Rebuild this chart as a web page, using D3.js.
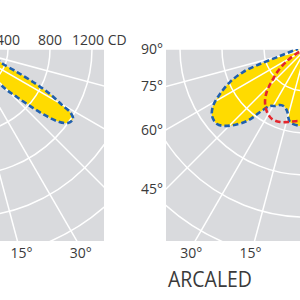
<!DOCTYPE html>
<html>
<head>
<meta charset="utf-8">
<script src="https://cdn.jsdelivr.net/npm/d3@7"></script>
<style>
  body { margin: 0; background: #fff; }
  svg { display: block; }
  text { font-family: "Open Sans", "DejaVu Sans", sans-serif; fill: #3a3a3a; }
</style>
</head>
<body>
<div id="chart"></div>
<script>
// grid + labels
const gridIntensities = [400, 800, 1200, 1600, 2000, 2400, 2800];
const gridAngles = [0, 15, 30, 45, 60, 75, 90];
const radialTickLabels = [400, 800, 1200];
const sideAngleLabels = [90, 75, 60, 45];
const bottomAngleLabels = [15, 30];
const title = "ARCALED";

// left diagram, blue curve (gamma in degrees, intensity in cd)
const leftBlueAngles = [0, 20, 30, 36, 40, 42, 44, 45, 46.7, 48.3, 49.8, 51.6, 54, 56.8, 58.8, 59.6, 61.8, 63.8, 65.7, 67.9, 70, 73, 78, 84, 90];
const leftBlueCd = [0, 10, 40, 90, 170, 280, 440, 560, 670, 815, 960, 1105, 1200, 1218, 1158, 1071, 908, 711, 533, 380, 330, 200, 90, 30, 0];

// right diagram, blue curve
const rightBlueAngles = [0, 4.5, 12.4, 17, 21, 24.9, 28.5, 32.3, 36.1, 39.3, 45.7, 49.9, 54.5, 58.5, 62.4, 66.5, 69.9, 71.9, 74.9, 80, 85, 90];
const rightBlueCd = [735, 735, 711, 617, 585, 588, 618, 642, 743, 886, 1048, 1109, 1099, 1038, 924, 790, 638, 461, 257, 150, 100, 76];

// right diagram, red curve
const rightRedAngles = [0, 6.3, 13.9, 19.6, 25.9, 31.8, 37.7, 42.9, 46.7, 51.8, 57.7, 64, 70, 76];
const rightRedCd = [690, 690, 716, 738, 741, 705, 638, 546, 445, 339, 214, 100, 30, 0];

const width = 300, height = 300;
const topY = 49, bottomY = 241;
const rScale = d3.scaleLinear().domain([0, 400]).range([0, 42]);

const panels = [
  { id: "l", cx: -34, x0: -34, x1: 104, mirror: false,
    curves: [{ angles: leftBlueAngles, cd: leftBlueCd, color: "#1f5fae", fill: true }] },
  { id: "r", cx: 306, x0: 166, x1: 306, mirror: true,
    curves: [
      { angles: rightBlueAngles, cd: rightBlueCd, color: "#1f5fae", fill: true },
      { angles: rightRedAngles, cd: rightRedCd, color: "#e4252c", fill: false }
    ] }
];

const svg = d3.select("#chart").append("svg")
  .attr("width", width)
  .attr("height", height);

// d3 radial angle for a gamma angle (0 = straight down, 90 = horizontal)
function radialAngle(p, g) {
  const deg = p.mirror ? 180 + g : 180 - g;
  return deg * Math.PI / 180;
}

function drawPanel(p) {
  svg.append("clipPath").attr("id", "clip-" + p.id)
    .append("rect")
    .attr("x", p.x0).attr("y", topY)
    .attr("width", p.x1 - p.x0).attr("height", bottomY - topY);

  const g = svg.append("g").attr("clip-path", `url(#clip-${p.id})`);

  g.append("rect")
    .attr("x", p.x0).attr("y", topY)
    .attr("width", p.x1 - p.x0).attr("height", bottomY - topY)
    .attr("fill", "#d9dadd");

  const c = g.append("g").attr("transform", `translate(${p.cx}, ${topY})`);

  // yellow fills first
  p.curves.filter(d => d.fill).forEach(curve => {
    const pts = curve.angles.map((a, i) => [radialAngle(p, a), rScale(curve.cd[i])]);
    const path = d3.lineRadial().curve(d3.curveCatmullRom)(pts) + "L0,0Z";
    c.append("path").attr("d", path).attr("fill", "#ffdb00");
  });

  // grid
  c.selectAll("circle.grid")
    .data(gridIntensities)
    .join("circle")
    .attr("r", d => rScale(d))
    .attr("fill", "none")
    .attr("stroke", "#fff")
    .attr("stroke-width", 1.5);

  c.selectAll("line.ray")
    .data(gridAngles)
    .join("line")
    .attr("x1", 0).attr("y1", 0)
    .attr("x2", d => d3.pointRadial(radialAngle(p, d), rScale(3000))[0])
    .attr("y2", d => d3.pointRadial(radialAngle(p, d), rScale(3000))[1])
    .attr("stroke", "#fff")
    .attr("stroke-width", 1.5);

  // dashed outlines
  p.curves.forEach(curve => {
    const pts = curve.angles.map((a, i) => [radialAngle(p, a), rScale(curve.cd[i])]);
    c.append("path")
      .attr("d", d3.lineRadial().curve(d3.curveCatmullRom)(pts))
      .attr("fill", "none")
      .attr("stroke", curve.color)
      .attr("stroke-width", 2.6)
      .attr("stroke-dasharray", "5.5,3");
  });

  // bottom angle labels
  const dir = p.mirror ? -1 : 1;
  svg.selectAll(null)
    .data(bottomAngleLabels)
    .join("text")
    .attr("x", d => p.cx + dir * ((bottomY - topY) * Math.tan(d * Math.PI / 180) + 4))
    .attr("y", 258)
    .attr("text-anchor", "middle")
    .style("font-size", "14px")
    .text(d => d + "°");
}

panels.forEach(drawPanel);

// intensity labels above the left diagram
const lp = panels[0];
svg.selectAll(null)
  .data(radialTickLabels)
  .join("text")
  .attr("x", (d, i) => lp.cx + rScale(d) - (i === radialTickLabels.length - 1 ? 20 : 0))
  .attr("y", 45)
  .attr("text-anchor", (d, i) => i === radialTickLabels.length - 1 ? "start" : "middle")
  .style("font-size", "14px")
  .text((d, i) => i === radialTickLabels.length - 1 ? d + " CD" : d);

// angle labels left of the right diagram
const rp = panels[1];
svg.selectAll(null)
  .data(sideAngleLabels)
  .join("text")
  .attr("x", rp.x0 - 3)
  .attr("y", d => topY + (rp.cx - rp.x0) / Math.tan(d * Math.PI / 180))
  .attr("dy", "0.35em")
  .attr("text-anchor", "end")
  .style("font-size", "14px")
  .text(d => d + "°");

svg.append("text")
  .attr("x", 168)
  .attr("y", 287)
  .attr("textLength", 84)
  .attr("lengthAdjust", "spacingAndGlyphs")
  .style("font-size", "21px")
  .text(title);
</script>
</body>
</html>
